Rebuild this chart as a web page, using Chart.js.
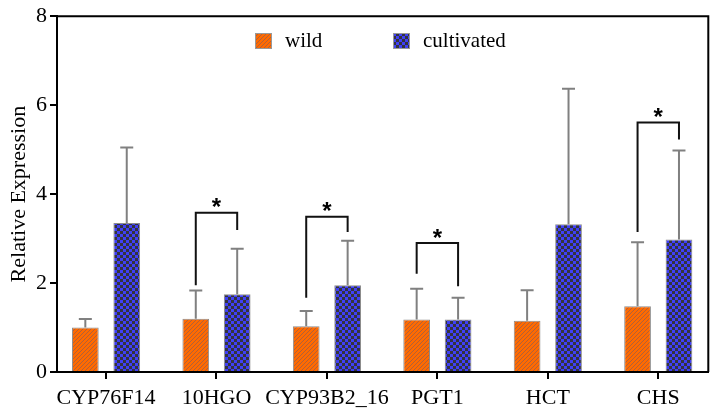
<!DOCTYPE html>
<html><head><meta charset="utf-8">
<script src="https://cdn.jsdelivr.net/npm/chart.js@4.4.1/dist/chart.umd.min.js"></script>
<style>html,body{margin:0;padding:0;background:#fff}#wrap{width:721px;height:412px}</style>
</head><body><div id="wrap"><canvas id="c" width="721" height="412"></canvas></div>
<script>
const categories = ['CYP76F14','10HGO','CYP93B2_16','PGT1','HCT','CHS'];
const seriesNames = ['wild','cultivated'];
const wildMean = [1.00,1.20,1.03,1.18,1.15,1.48];
const wildSD   = [0.19,0.63,0.34,0.69,0.69,1.44];
const cultMean = [3.35,1.75,1.95,1.18,3.32,2.98];
const cultSD   = [1.70,1.02,1.00,0.49,3.05,2.00];
const yTicks = [0,2,4,6,8];
const sigIndex    = [1,2,3,5];
const sigTop      = [3.58,3.49,2.90,5.61];
const sigLeftEnd  = [1.95,1.67,2.21,3.15];
const sigRightEnd = [3.19,3.15,1.93,5.23];
const sigLabel    = ['*','*','*','*'];

function makeHatch(){
  const c=document.createElement('canvas');c.width=4;c.height=4;
  const g=c.getContext('2d');
  g.fillStyle='#ff6a00';g.fillRect(0,0,4,4);
  g.fillStyle='#b0603a';
  for(let i=0;i<4;i++){g.fillRect(i,3-i,1,1);}
  return g.createPattern(c,'repeat');
}
function makeChecker(){
  const c=document.createElement('canvas');c.width=6;c.height=6;
  const g=c.getContext('2d');
  g.fillStyle='#34343e';g.fillRect(0,0,6,6);
  g.fillStyle='#4040f6';g.fillRect(0,0,3,3);g.fillRect(3,3,3,3);
  return g.createPattern(c,'repeat');
}
const ctx=document.getElementById('c').getContext('2d');
const wildFill=makeHatch(), cultFill=makeChecker();
const fills=[wildFill,cultFill];
const sds=[wildSD,cultSD];
const means=[wildMean,cultMean];

const serif='Liberation Serif';
const overlay={
  id:'overlay',
  afterDatasetsDraw(chart){
    const g=chart.ctx, ys=chart.scales.y, ca=chart.chartArea;
    g.save();
    g.strokeStyle='#808080';g.lineWidth=2;
    for(let d=0;d<2;d++){
      const meta=chart.getDatasetMeta(d);
      meta.data.forEach((el,i)=>{
        const top=ys.getPixelForValue(means[d][i]+sds[d][i]);
        g.beginPath();
        g.moveTo(el.x,el.y);g.lineTo(el.x,top);
        g.moveTo(el.x-6.5,top);g.lineTo(el.x+6.5,top);
        g.stroke();
      });
    }
    g.strokeStyle='#111';g.lineWidth=2;g.fillStyle='#000';
    g.font='bold 24px "Liberation Sans"';g.textAlign='center';g.textBaseline='alphabetic';
    sigIndex.forEach((ci,k)=>{
      const xl=chart.getDatasetMeta(0).data[ci].x;
      const xr=chart.getDatasetMeta(1).data[ci].x;
      const yt=ys.getPixelForValue(sigTop[k]);
      g.beginPath();
      g.moveTo(xl,ys.getPixelForValue(sigLeftEnd[k]));
      g.lineTo(xl,yt);g.lineTo(xr,yt);
      g.lineTo(xr,ys.getPixelForValue(sigRightEnd[k]));
      g.stroke();
      g.fillText(sigLabel[k],(xl+xr)/2,yt+2.6);
    });
    g.strokeStyle='#000';g.lineWidth=2;
    g.beginPath();
    g.moveTo(ca.left,ca.top);g.lineTo(ca.right,ca.top);g.lineTo(ca.right,ca.bottom);
    g.stroke();
    const items=[{x:255,tx:285},{x:393,tx:423}];
    g.font='21px "'+serif+'"';g.textAlign='left';g.textBaseline='middle';
    items.forEach((it,d)=>{
      g.fillStyle=fills[d];g.fillRect(it.x,33,17,16);
      g.strokeStyle='#999';g.lineWidth=1;g.strokeRect(it.x+0.5,33.5,16,15);
      g.fillStyle='#000';g.fillText(seriesNames[d],it.tx,41.5);
    });
    g.restore();
  }
};

new Chart(ctx,{
  type:'bar',
  data:{datasets:[
    {label:seriesNames[0],data:wildMean.map((v,i)=>({x:i,y:v})),backgroundColor:wildFill,borderColor:'#8c8c8c',borderWidth:1},
    {label:seriesNames[1],data:cultMean.map((v,i)=>({x:i,y:v})),backgroundColor:cultFill,borderColor:'#8c8c8c',borderWidth:1}
  ]},
  options:{
    responsive:false,animation:false,
    categoryPercentage:0.75,barPercentage:0.645,
    layout:{padding:{top:15.5,right:12.7,left:0,bottom:0}},
    plugins:{legend:{display:false},tooltip:{enabled:false}},
    scales:{
      x:{type:'linear',min:-0.444,max:5.453,offset:false,
        afterBuildTicks:s=>{s.ticks=categories.map((_,i)=>({value:i}));},
        border:{color:'#000',width:2},
        grid:{offset:false,drawOnChartArea:false,color:'#000',lineWidth:2,tickLength:7},
        ticks:{callback:v=>categories[v],color:'#000',font:{family:serif,size:22},padding:6,maxRotation:0,autoSkip:false},
        afterFit:s=>{s.height=40;}
      },
      y:{type:'linear',min:0,max:8,
        afterBuildTicks:s=>{s.ticks=yTicks.map(v=>({value:v}));},
        border:{color:'#000',width:2},
        grid:{drawOnChartArea:false,color:'#000',lineWidth:2,tickLength:7},
        ticks:{color:'#000',font:{family:serif,size:22},padding:3},
        title:{display:true,text:'Relative Expression',color:'#000',font:{family:serif,size:22},padding:{top:6}},
        afterFit:s=>{s.width=57;}
      }
    }
  },
  plugins:[overlay]
});
</script></body></html>
